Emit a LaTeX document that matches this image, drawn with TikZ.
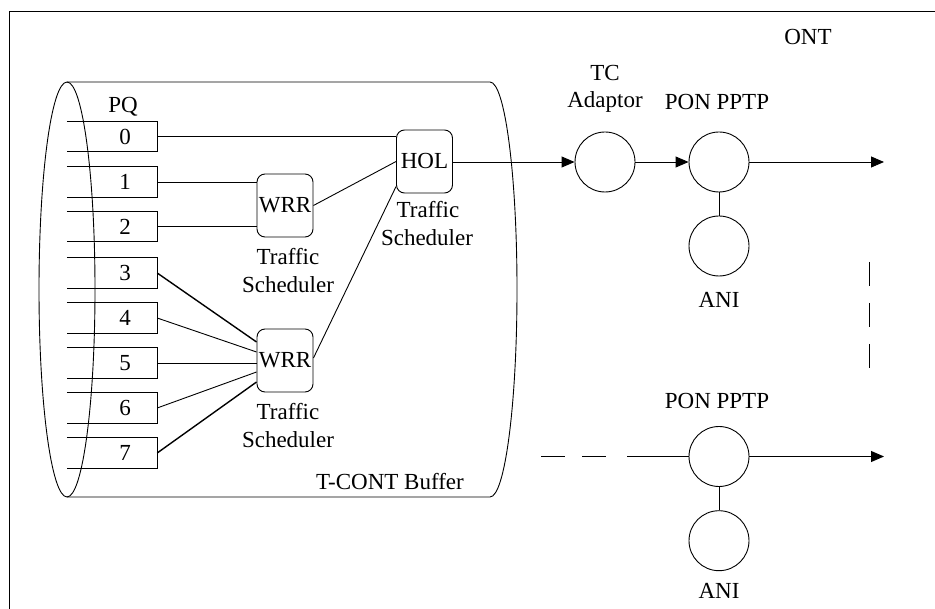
\documentclass[tikz,border=0pt]{standalone}
\usepackage{fontspec}
\setmainfont{Liberation Serif}
\usetikzlibrary{arrows.meta,calc}
\begin{document}
\begin{tikzpicture}[x=1pt,y=-1pt,
  every node/.style={font=\fontsize{23}{28}\selectfont},
  ln/.style={line width=0.9pt},
  thk/.style={line width=1.4pt},
  queue/.style={minimum width=64pt,minimum height=30pt,inner sep=0pt},
  sched/.style={draw,line width=0.9pt,rounded corners=8pt,minimum width=56pt,minimum height=63pt,inner sep=0pt},
  circ/.style={draw,line width=0.9pt,circle,minimum size=60pt,inner sep=0pt},
  lab/.style={anchor=base,inner sep=0pt},
  arr/.style={line width=0.9pt,-{Triangle[length=13pt,width=11pt]}}
]
\useasboundingbox (0,0) rectangle (935,609);
% outer frame
\draw[line width=1pt] (9.5,609) -- (9.5,11.5) -- (935,11.5);
\node[lab] (ont) at (808,45) {ONT};
% cylinder
\draw[ln] (67,289.5) ellipse [x radius=28, y radius=207.5];
\draw[ln] (67,82) -- (490,82) arc[start angle=-90, end angle=90, x radius=27, y radius=207.5] -- (67,497);
\node[lab] (pq) at (123,112.5) {PQ};
\node[lab] (tcb) at (390,490) {T-CONT Buffer};
% queues
\foreach \i/\c in {0/136.5,1/182,2/226.5,3/273,4/318,5/363,6/408,7/453}{
  \node[queue] (q\i) at (125,\c) {\i};
  \draw[ln] ([xshift=-26pt]q\i.north west) -- (q\i.north east) -- (q\i.south east) -- ([xshift=-26pt]q\i.south west);
}
% schedulers
\node[sched] (w1) at (285,205.5) {WRR};
\node[sched] (hol) at (424.5,161.5) {HOL};
\node[sched] (w2) at (285,360.5) {WRR};
\node[lab] (t1a) at (288,265) {Traffic};
\node[lab] (t1b) at (288,293) {Scheduler};
\node[lab] (t2a) at (288,420) {Traffic};
\node[lab] (t2b) at (288,448) {Scheduler};
\node[lab] (t3a) at (428,218) {Traffic};
\node[lab] (t3b) at (427,246) {Scheduler};
% queue links
\draw[ln] (q0.east) -- (q0.east -| hol.west);
\draw[ln] (q1.east) -- (q1.east -| w1.west);
\draw[ln] (q2.east) -- (q2.east -| w1.west);
\draw[ln] (w1.east) -- (hol.west);
\draw[thk] (q3.east) -- ($(w2.west)+(0,-18.5)$);
\draw[ln] (q4.east) -- ($(w2.west)+(0,-8.5)$);
\draw[ln] (q5.east) -- ($(w2.west)+(0,2.5)$);
\draw[ln] (q6.east) -- ($(w2.west)+(0,11.5)$);
\draw[thk] (q7.east) -- ($(w2.west)+(0,21.5)$);
\draw[ln] ($(w2.east)+(0,-2.5)$) -- ($(hol.west)+(0,25)$);
% right part
\node[circ] (tc) at (605,162) {};
\node[circ] (pon1) at (719,162) {};
\node[circ] (ani1) at (719,246) {};
\node[circ] (pon2) at (719,456.5) {};
\node[circ] (ani2) at (719,540.7) {};
\node[lab] (tcl1) at (605,80.5) {TC};
\node[lab] (tcl2) at (605,108) {Adaptor};
\node[lab] (ponl1) at (717,110) {PON PPTP};
\node[lab] (anil1) at (719,308) {ANI};
\node[lab] (ponl2) at (717,409) {PON PPTP};
\node[lab] (anil2) at (719,598) {ANI};
\coordinate (out1) at (884,162);
\coordinate (out2) at (884,456.5);
\coordinate (in2) at (541,456.5);
\coordinate (vd1) at (869,262);
\coordinate (vd2) at (869,368);
\draw[arr] (hol.east |- tc.west) -- (tc.west);
\draw[arr] (tc.east) -- (pon1.west);
\draw[arr] (pon1.east) -- (out1);
\draw[ln] (pon1.south) -- (ani1.north);
\draw[arr] (pon2.east) -- (out2);
\draw[ln] (pon2.south) -- (ani2.north);
\draw[ln,dash pattern=on 24pt off 17pt on 24pt off 21pt on 300pt] (in2) -- (pon2.west);
\draw[line width=1pt,dash pattern=on 24pt off 17pt] (vd1) -- (vd2);
\end{tikzpicture}
\end{document}
